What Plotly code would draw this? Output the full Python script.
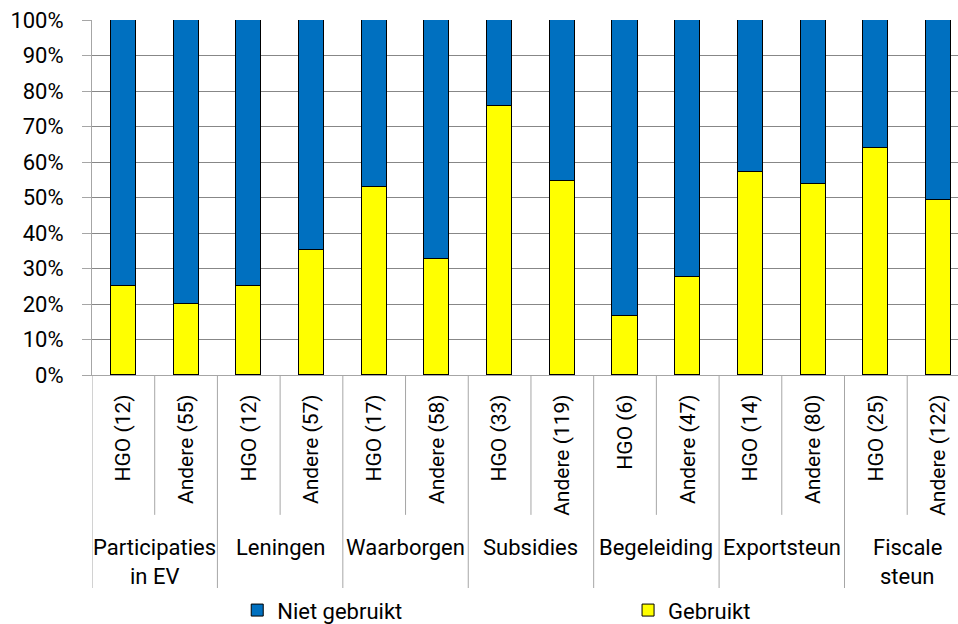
import plotly.graph_objects as go

# Share of firms that used each support instrument (percent), per group
bar_labels = ["HGO (12)", "Andere (55)", "HGO (12)", "Andere (57)",
              "HGO (17)", "Andere (58)", "HGO (33)", "Andere (119)",
              "HGO (6)", "Andere (47)", "HGO (14)", "Andere (80)",
              "HGO (25)", "Andere (122)"]
group_labels = ["Participaties\nin EV", "Leningen", "Waarborgen", "Subsidies",
                "Begeleiding", "Exportsteun", "Fiscale\nsteun"]
used_pct = [25.0, 20.0, 25.0, 35.1, 52.9, 32.8, 75.8, 54.6,
            16.7, 27.7, 57.1, 53.8, 64.0, 49.2]
not_used_pct = [100 - v for v in used_pct]
y_ticks = list(range(0, 101, 10))

FONT = "Roboto"
FS = 22
BLUE = "#0070C0"
YELLOW = "#FFFF00"
GRID = "#878787"
AXIS = "#A6A6A6"

x = list(range(len(bar_labels)))

fig = go.Figure()
fig.add_trace(go.Bar(x=x, y=used_pct, name="Gebruikt", width=0.4, legend="legend2",
                     marker=dict(color=YELLOW, line=dict(color="#000000", width=1))))
fig.add_trace(go.Bar(x=x, y=not_used_pct, name="Niet gebruikt", width=0.4, legend="legend",
                     marker=dict(color=BLUE, line=dict(color="#000000", width=1))))

# Divider lines below the category axis: short between bars, long between groups
shapes = []
for i in range(len(bar_labels)):
    b = i - 0.5
    long_line = (i % 2 == 0)
    shapes.append(dict(type="line", xref="x", yref="paper", x0=b, x1=b,
                       y0=0, y1=-0.6 if long_line else -0.394,
                       line=dict(color=AXIS, width=1), layer="above"))

annotations = []
for g, label in enumerate(group_labels):
    center = 2 * g + 0.5
    for j, line in enumerate(label.split("\n")):
        annotations.append(dict(x=center, y=-0.485 - 0.082 * j, xref="x", yref="paper",
                                text=line, showarrow=False, xanchor="center",
                                yanchor="middle", font=dict(family=FONT, size=FS, color="#000")))

legend_style = dict(orientation="h", yref="container", y=0.022, xanchor="left",
                    yanchor="middle", font=dict(family=FONT, size=FS),
                    bgcolor="rgba(0,0,0,0)")

fig.update_layout(
    width=958, height=624,
    margin=dict(l=92, r=0, t=20, b=249),
    barmode="stack",
    plot_bgcolor="white", paper_bgcolor="white",
    font=dict(family=FONT, size=FS, color="#000"),
    showlegend=True,
    legend=dict(x=0.1677, **legend_style),
    legend2=dict(x=0.619, **legend_style),
    shapes=shapes,
    annotations=annotations,
    bargap=0,
)
fig.update_xaxes(range=[-0.5, 13.31], tickmode="array", tickvals=x, ticktext=bar_labels,
                 tickangle=-90, showgrid=False, zeroline=False, showline=True,
                 linecolor=AXIS, linewidth=1, ticks="", ticklabelstandoff=10,
                 automargin=False, tickfont=dict(family=FONT, size=21))
fig.update_yaxes(range=[0, 100], tickmode="array", tickvals=y_ticks,
                 ticktext=[f"{v}%" for v in y_ticks], showgrid=True, gridcolor=GRID,
                 gridwidth=1, zeroline=False, showline=True, linecolor=AXIS,
                 ticks="outside", ticklen=9, tickcolor=AXIS, ticklabelstandoff=14,
                 automargin=False, tickfont=dict(family=FONT, size=FS))

fig.write_html("out.html")
